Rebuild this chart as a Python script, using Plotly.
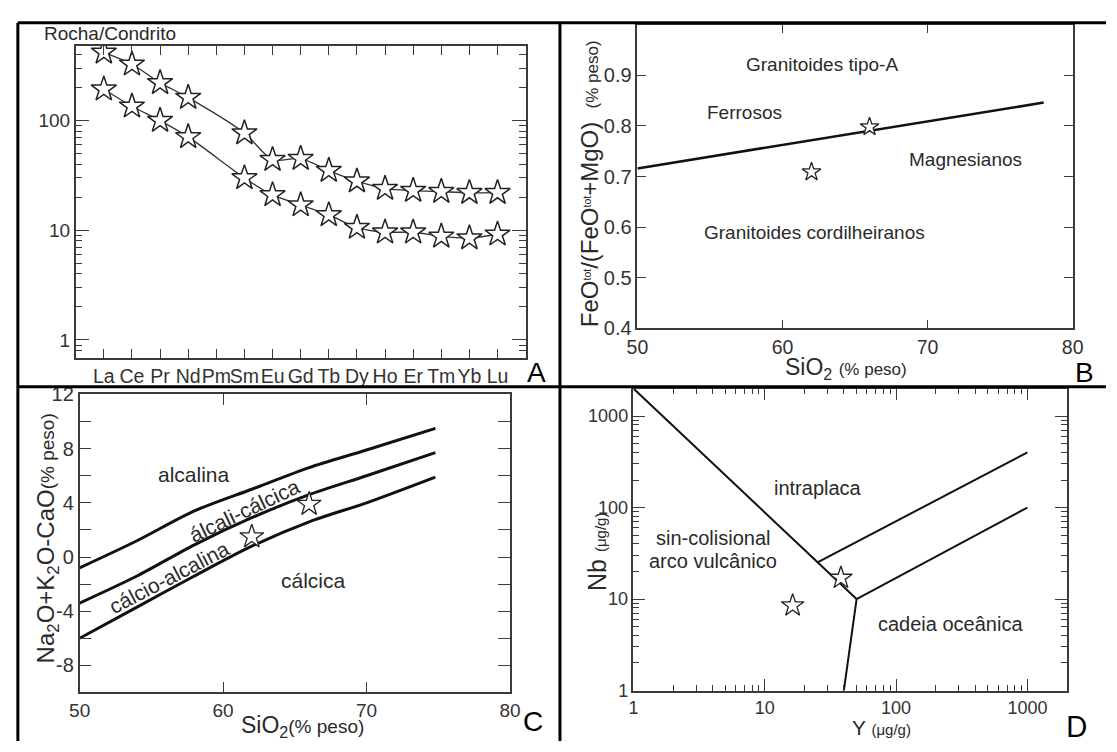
import plotly.graph_objects as go

W, H = 1117, 752

# ---------------- Panel A : REE normalised to chondrite ----------------
ree = ["La", "Ce", "Pr", "Nd", "Pm", "Sm", "Eu", "Gd", "Tb", "Dy", "Ho", "Er", "Tm", "Yb", "Lu"]
ree_upper = [419, 326, 221, 162, None, 77, 44, 45, 35, 28, 24, 23, 22.5, 22, 22]
ree_lower = [193, 135, 100, 71, None, 30, 21, 17, 13.8, 10.6, 9.6, 9.6, 8.8, 8.5, 9.2]
a_yticks = [1, 10, 100]

# ---------------- Panel B : Fe-number vs SiO2 ----------------
b_sio2 = [62.0, 66.0]
b_fe = [0.709, 0.798]
b_line_sio2 = [50, 78]
b_line_fe = [0.716, 0.846]
b_xticks = [50, 60, 70, 80]
b_yticks = [0.4, 0.5, 0.6, 0.7, 0.8, 0.9]

# ---------------- Panel C : MALI vs SiO2 ----------------
c_sio2 = [62.0, 66.0]
c_mali = [1.5, 3.9]
c_curve_x = [50, 54, 58, 62, 66, 70, 74.8]
c_alk = [-0.8, 1.2, 3.4, 5.0, 6.6, 7.9, 9.5]
c_alkcalc = [-3.4, -1.4, 0.9, 2.9, 4.6, 6.0, 7.7]
c_calcalk = [-6.0, -3.7, -1.4, 0.8, 2.6, 4.0, 5.9]
c_xticks = [50, 60, 70, 80]
c_yticks = [-8, -4, 0, 4, 8, 12]
c_yminor = [-6, -2, 2, 6, 10]

# ---------------- Panel D : Nb vs Y (Pearce) ----------------
d_y = [16.3, 38.0]
d_nb = [8.5, 17.0]
d_bound_y = [1, 50, None, 40, 50, None, 50, 1000, None, 25, 1000]
d_bound_nb = [2000, 10, None, 1, 10, None, 10, 100, None, 25, 400]
d_ticks = [1, 10, 100, 1000]

FONT = "Liberation Sans, Arial, sans-serif"
TXT = "#2a2a2a"
AX = "#3a3a3a"


def px(x):
    return x / W


def py(y):
    return 1 - y / H


def minor_log(lo, hi):
    return [k * 10 ** e for e in range(lo, hi) for k in range(2, 10)]


fig = go.Figure()

# Panel A traces
xa = list(range(len(ree)))
for vals in (ree_upper, ree_lower):
    fig.add_trace(go.Scatter(x=xa, y=vals, mode="lines", connectgaps=True,
                             line=dict(color="#333", width=1.3, shape="spline", smoothing=0.8),
                             xaxis="x", yaxis="y", showlegend=False, hoverinfo="skip"))
    fig.add_trace(go.Scatter(x=xa, y=vals, mode="markers",
                             marker=dict(symbol="star", size=19, color="white",
                                         line=dict(color="#222", width=1.5)),
                             xaxis="x", yaxis="y", showlegend=False))

# Panel B traces
fig.add_trace(go.Scatter(x=b_line_sio2, y=b_line_fe, mode="lines",
                         line=dict(color="#111", width=2.6), xaxis="x2", yaxis="y2", showlegend=False))
fig.add_trace(go.Scatter(x=b_sio2, y=b_fe, mode="markers",
                         marker=dict(symbol="star", size=14, color="white", line=dict(color="#222", width=1.3)),
                         xaxis="x2", yaxis="y2", showlegend=False))

# Panel C traces
for curve in (c_alk, c_alkcalc, c_calcalk):
    fig.add_trace(go.Scatter(x=c_curve_x, y=curve, mode="lines",
                             line=dict(color="#111", width=3, shape="spline", smoothing=0.8),
                             xaxis="x3", yaxis="y3", showlegend=False))
fig.add_trace(go.Scatter(x=c_sio2, y=c_mali, mode="markers",
                         marker=dict(symbol="star", size=18, color="white", line=dict(color="#222", width=1.3)),
                         xaxis="x3", yaxis="y3", showlegend=False))

# Panel D traces
fig.add_trace(go.Scatter(x=d_bound_y, y=d_bound_nb, mode="lines", connectgaps=False,
                         line=dict(color="#111", width=2), xaxis="x4", yaxis="y4", showlegend=False))
fig.add_trace(go.Scatter(x=d_y, y=d_nb, mode="markers",
                         marker=dict(symbol="star", size=17, color="white", line=dict(color="#222", width=1.3)),
                         xaxis="x4", yaxis="y4", showlegend=False))

common = dict(showline=True, linecolor=AX, linewidth=1.5, mirror="ticks", ticks="inside",
              tickcolor=AX, showgrid=False, zeroline=False, tickangle=0)

layout = dict(
    width=W, height=H, margin=dict(l=0, r=0, t=0, b=0),
    paper_bgcolor="white", plot_bgcolor="white",
    font=dict(family=FONT, color=TXT),
    xaxis=dict(common, domain=[px(66), px(525)], anchor="y", range=[-1, 15],
               tickvals=xa, ticktext=ree, ticklen=9, tickwidth=1.3,
               tickfont=dict(size=19.5, color="#333")),
    yaxis=dict(common, domain=[py(357), py(36)], anchor="x", type="log", range=[-0.16, 2.68],
               tickvals=a_yticks, ticktext=[str(v) for v in a_yticks], ticklen=14, tickwidth=1.3,
               tickfont=dict(size=19, color="#333"),
               minor=dict(tickvals=minor_log(-1, 3), ticks="inside", ticklen=7, tickcolor=AX, tickwidth=1.1)),
    xaxis2=dict(common, domain=[px(639), px(1083)], anchor="y2", range=[50, 80],
                tickvals=b_xticks, ticktext=[str(v) for v in b_xticks], ticklen=9, tickwidth=1.3,
                tickfont=dict(size=19.5, color="#333")),
    yaxis2=dict(common, domain=[py(327), py(14)], anchor="x2", range=[0.4, 1.0],
                tickvals=b_yticks, ticktext=["%.1f" % v for v in b_yticks], ticklen=9, tickwidth=1.3,
                tickfont=dict(size=20, color="#333")),
    xaxis3=dict(common, domain=[px(70), px(509)], anchor="y3", range=[50, 80],
                tickvals=c_xticks, ticktext=[str(v) for v in c_xticks], ticklen=11, tickwidth=1.3,
                tickfont=dict(size=19, color="#333")),
    yaxis3=dict(common, domain=[py(702), py(395)], anchor="x3", range=[-10, 12],
                tickvals=c_yticks, ticktext=[str(v) for v in c_yticks], ticklen=12, tickwidth=1.3,
                tickfont=dict(size=20, color="#333"),
                minor=dict(tickvals=c_yminor, ticks="inside", ticklen=12, tickcolor=AX, tickwidth=1.3)),
    xaxis4=dict(common, domain=[px(635), px(1077)], anchor="y4", type="log", range=[0, 3.3],
                tickvals=d_ticks, ticktext=[str(v) for v in d_ticks], ticklen=12, tickwidth=1.3,
                tickfont=dict(size=18, color="#333"),
                minor=dict(tickvals=minor_log(0, 4), ticks="inside", ticklen=6, tickcolor=AX, tickwidth=1.1)),
    yaxis4=dict(common, domain=[py(700), py(389)], anchor="x4", type="log", range=[0, 3.3],
                tickvals=d_ticks, ticktext=[str(v) for v in d_ticks], ticklen=12, tickwidth=1.3,
                tickfont=dict(size=18, color="#333"),
                minor=dict(tickvals=minor_log(0, 4), ticks="inside", ticklen=6, tickcolor=AX, tickwidth=1.1)),
)
fig.update_layout(**layout)

ann = []


def paper_text(text, x, y, size, xanchor="center", yanchor="middle", angle=0, family=FONT, color=TXT):
    ann.append(dict(text=text, x=px(x), y=py(y), xref="paper", yref="paper", showarrow=False,
                    xanchor=xanchor, yanchor=yanchor, textangle=angle,
                    font=dict(size=size, family=family, color=color)))


def data_text(text, x, y, xr, yr, size, angle=0):
    ann.append(dict(text=text, x=x, y=y, xref=xr, yref=yr, showarrow=False,
                    xanchor="center", yanchor="middle", textangle=angle,
                    font=dict(size=size, family=FONT, color=TXT)))


# Panel A texts
paper_text("Rocha/Condrito", 32, 23, 19, xanchor="left")
paper_text("A", 536, 372, 28, color="#000")

# Panel B texts
data_text("Granitoides tipo-A", 62.7, 0.921, "x2", "y2", 19)
data_text("Ferrosos", 57.4, 0.827, "x2", "y2", 19)
data_text("Magnesianos", 72.6, 0.734, "x2", "y2", 19)
data_text("Granitoides cordilheiranos", 62.2, 0.589, "x2", "y2", 19)
paper_text("FeO<span style='font-size:15px'><sup>tot</sup></span>/(FeO<span style='font-size:15px'><sup>tot</sup></span>+MgO)"
           "  <span style='font-size:17px'>(% peso)</span>",
           590, 178, 24, angle=-90)
paper_text("SiO<sub>2</sub> <span style='font-size:17px'>(% peso)</span>", 852, 368, 23)
paper_text("B", 1095, 372, 28, color="#000")

# Panel C texts
data_text("alcalina", 58.0, 6.1, "x3", "y3", 21)
data_text("álcali-cálcica", 61.5, 3.4, "x3", "y3", 21, angle=-25.5)
data_text("cálcio-alcalina", 56.2, -1.5, "x3", "y3", 21, angle=-27.5)
data_text("cálcica", 66.3, -1.7, "x3", "y3", 21)
paper_text("Na<sub>2</sub>O+K<sub>2</sub>O-CaO<span style='font-size:19px'>(% peso)</span>",
           37, 543, 24, angle=-90)
paper_text("SiO<sub>2</sub><span style='font-size:19px'>(% peso)</span>", 297, 737, 23)
paper_text("C", 532, 732, 28, color="#000")

# Panel D texts
data_text("intraplaca", 1.407, 2.21, "x4", "y4", 20)
data_text("sin-colisional", 0.608, 1.668, "x4", "y4", 20)
data_text("arco vulcânico", 0.608, 1.414, "x4", "y4", 20)
data_text("cadeia oceânica", 2.414, 0.724, "x4", "y4", 20)
paper_text("Nb <span style='font-size:15px'>(μg/g)</span>", 597, 557, 25, angle=-90)
paper_text("Y <span style='font-size:15px'>(μg/g)</span>", 888, 738, 21)
paper_text("D", 1087, 737, 28, family="Lato, Carlito, sans-serif", color="#000")

fig.update_layout(annotations=ann)

# Frame and dividers
shapes = []
for x0, y0, x1, y1 in [(7, 12, 7, 752), (7, 12, W, 12), (560, 12, 560, 752), (7, 387, W, 387)]:
    shapes.append(dict(type="line", xref="paper", yref="paper", x0=px(x0), y0=py(y0), x1=px(x1), y1=py(y1),
                       line=dict(color="black", width=3), layer="above"))
fig.update_layout(shapes=shapes)

fig.write_html("out.html", config={"displayModeBar": False},
               post_script="document.body.style.margin='0';document.body.style.overflow='hidden';")
